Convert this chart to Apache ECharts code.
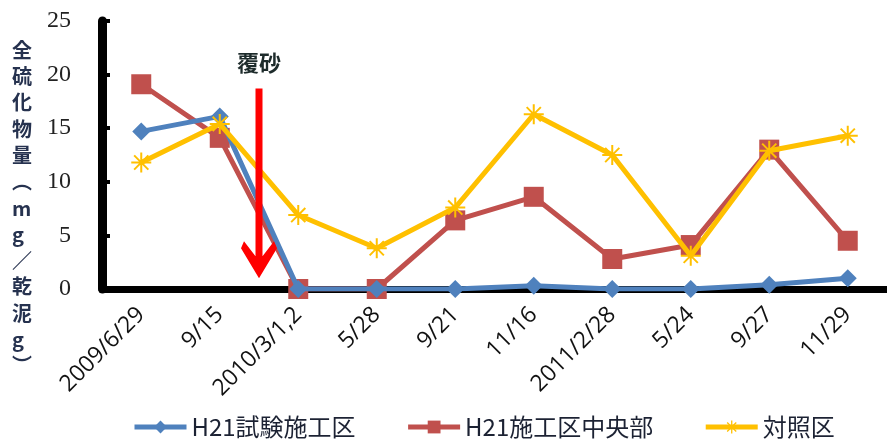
<!DOCTYPE html>
<html><head><meta charset="utf-8">
<script src="https://cdn.jsdelivr.net/npm/echarts@6/dist/echarts.min.js"></script>
<style>html,body{margin:0;padding:0;background:#fff}#c{width:887px;height:444px}</style>
</head><body><div id="c"></div>
<script>
const categories = ['2009/6/29','9/15','2010/3/1,2','5/28','9/21','11/16','2011/2/28','5/24','9/27','11/29'];
const seriesNames = ['H21試験施工区','H21施工区中央部','対照区'];
const testArea = [14.7, 16.1, 0, 0, 0, 0.3, 0, 0, 0.4, 1.0];
const centerArea = [19.1, 14.1, 0, 0, 6.4, 8.6, 2.8, 4.1, 13.0, 4.5];
const controlArea = [11.8, 15.4, 6.9, 3.8, 7.6, 16.3, 12.5, 3.1, 12.9, 14.3];
const yTicks = [0, 5, 10, 15, 20, 25];
const yName = ['全','硫','化','物','量','︵','m','g','／','乾','泥','g','︶'];
const annotationText = '覆砂';
const annotationBetween = [1, 2];      // arrow sits between these category indexes
const annotationRange = [18.7, 1.0];   // arrow from / to (y values)
const annotationLabelY = 21.1;

const cjk = '"Noto Sans CJK JP", "Noto Sans", sans-serif';
const star = 'path://M9,0H11V20H9Z M0,9H20V11H0Z M2.2,3.6L3.6,2.2L17.8,16.4L16.4,17.8Z M16.4,2.2L17.8,3.6L3.6,17.8L2.2,16.4Z';

const chart = echarts.init(document.getElementById('c'));
chart.setOption({
  backgroundColor: '#fff',
  animation: false,
  grid: {left: 102, right: -8, top: 21, bottom: 155},
  legend: {
    bottom: 0, left: 127, itemWidth: 52, itemHeight: 16, itemGap: 50,
    lineStyle: {width: 5},
    textStyle: {fontFamily: cjk, fontSize: 24, color: '#1c2233'},
    data: seriesNames
  },
  xAxis: {
    type: 'category', data: categories, boundaryGap: true,
    axisLine: {lineStyle: {color: '#000', width: 7}},
    axisTick: {inside: true, length: 7, lineStyle: {color: '#000', width: 4}},
    axisLabel: {rotate: 45, fontSize: 23, color: '#111', fontFamily: 'Open Sans, sans-serif', margin: 22}
  },
  yAxis: {
    type: 'value', min: yTicks[0], max: yTicks[yTicks.length-1], interval: 5,
    splitLine: {show: false},
    axisLine: {show: true, lineStyle: {color: '#000', width: 9}},
    axisTick: {show: true, inside: true, length: 8, lineStyle: {color: '#000', width: 4}},
    axisLabel: {fontSize: 24, color: '#222', fontFamily: 'Liberation Serif, serif', margin: 31}
  },
  series: [
    {name: seriesNames[0], type: 'line', data: testArea, z: 4,
     symbol: 'diamond', symbolSize: 18,
     itemStyle: {color: '#4f81bd'}, lineStyle: {color: '#4f81bd', width: 5}},
    {name: seriesNames[1], type: 'line', data: centerArea, z: 3,
     symbol: 'rect', symbolSize: 20,
     itemStyle: {color: '#c0504d'}, lineStyle: {color: '#c0504d', width: 5}},
    {name: seriesNames[2], type: 'line', data: controlArea, z: 5,
     symbol: star, symbolSize: 20,
     itemStyle: {color: '#ffc000'}, lineStyle: {color: '#ffc000', width: 5}}
  ]
});

// annotation arrow placed via the chart's own scales
const conv = (ci, v) => chart.convertToPixel({xAxisIndex: 0, yAxisIndex: 0}, [ci, v]);
const pa = conv(annotationBetween[0], annotationRange[0]);
const pb = conv(annotationBetween[1], annotationRange[0]);
const cx = (pa[0] + pb[0]) / 2;
const yTop = pa[1];
const yTip = conv(annotationBetween[0], annotationRange[1])[1];
const yLab = conv(annotationBetween[0], annotationLabelY)[1];
const hw = 3.5, headH = 37, headW = 18;
chart.setOption({
  graphic: [
    {type: 'text', left: 12, top: 37, z: 10,
     style: {text: yName.join('\n'), font: '600 20px ' + cjk, fill: '#26324f', lineHeight: 26.3, align: 'center'}},
    {type: 'polygon', z: 10,
     shape: {points: [
       [cx - hw, yTop], [cx + hw, yTop], [cx + hw, yTip - 22],
       [cx + headW - 3, yTip - headH], [cx + headW, yTip - headH + 7],
       [cx, yTip],
       [cx - headW, yTip - headH + 7], [cx - headW + 3, yTip - headH],
       [cx - hw, yTip - 22]
     ]},
     style: {fill: '#ff0000'}},
    {type: 'text', x: cx, y: yLab, z: 10,
     style: {text: annotationText, font: 'bold 22px ' + cjk, fill: '#1d2b2b', align: 'center', verticalAlign: 'middle'}}
  ]
});
</script></body></html>
